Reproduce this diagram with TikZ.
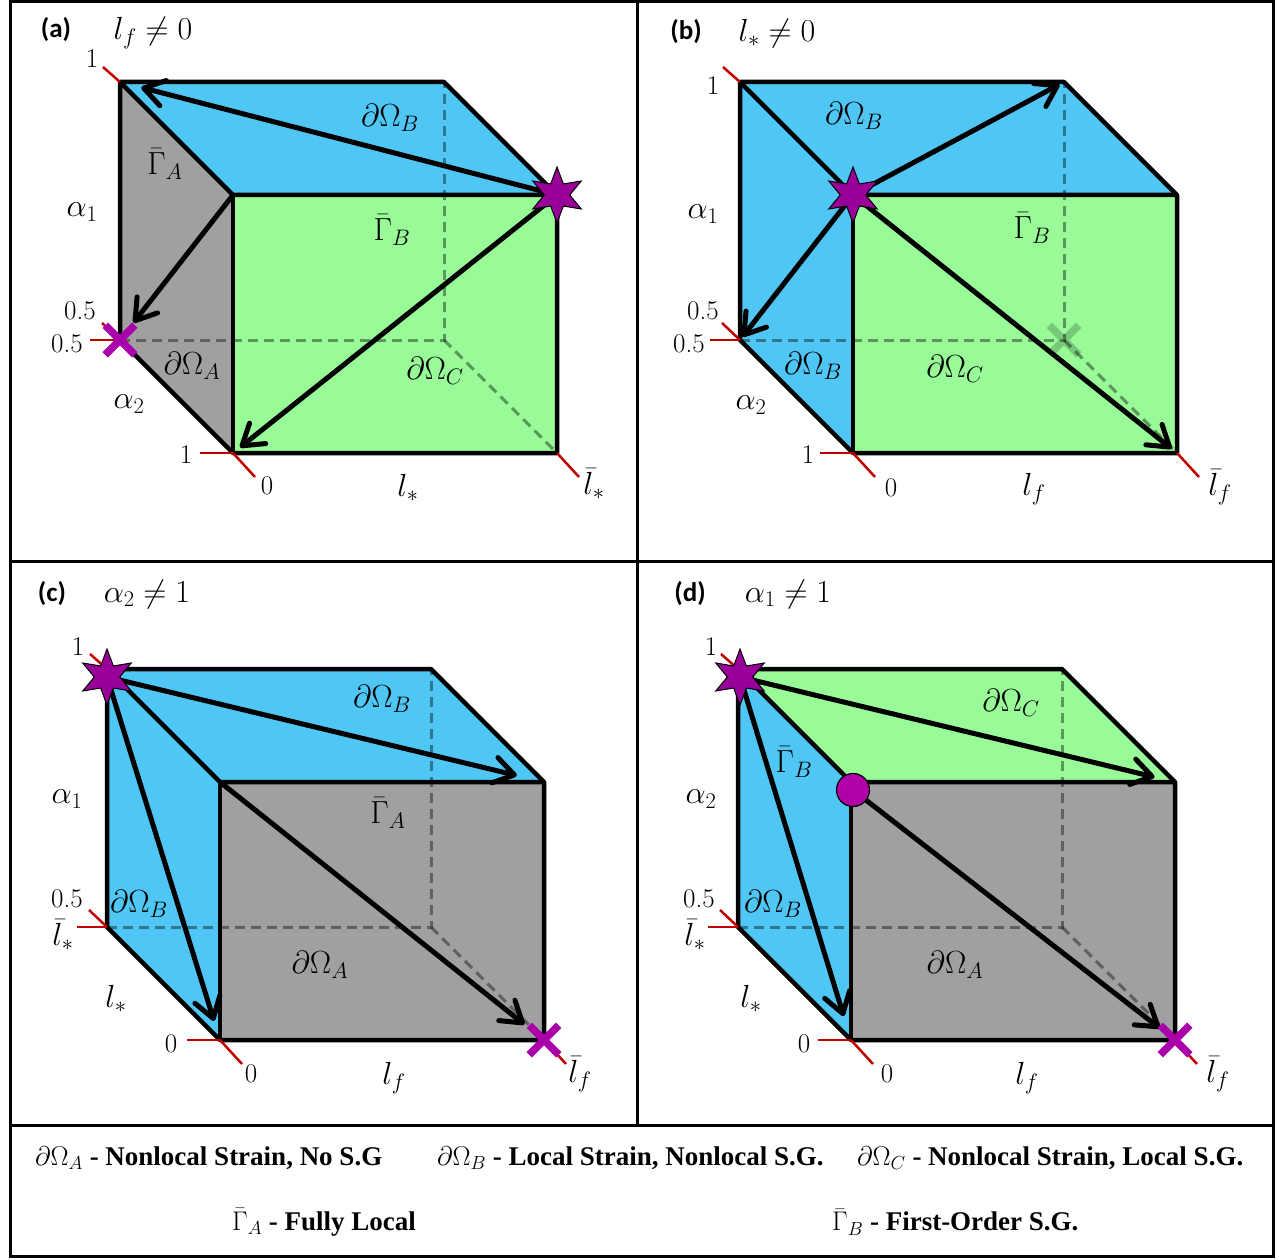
\RequirePackage{fix-cm}
\documentclass[tikz,border=0pt]{standalone}
\usepackage{amsmath,amssymb}
\usepackage{fontspec}
\newfontfamily\panelfont{Carlito}
\newfontfamily\legendfont{Liberation Serif}
\usetikzlibrary{
  arrows.meta,
  shapes.geometric,
  shapes.misc
}

\definecolor{faceblue}{RGB}{79,198,243}
\definecolor{facegreen}{RGB}{152,251,152}
\definecolor{facegray}{RGB}{160,160,160}
\definecolor{starpurple}{RGB}{153,0,153}
\definecolor{crossmag}{RGB}{170,0,170}
\definecolor{dotmag}{RGB}{178,0,168}
\definecolor{tickred}{RGB}{192,0,0}

\begin{document}
\begin{tikzpicture}[x=1pt,y=-1pt,
  edge/.style={line width=4.5pt,line join=round},
  hidden/.style={line width=3pt,black,opacity=0.4,dash pattern=on 10pt off 6pt},
  route/.style={line width=5pt,-{Straight Barb[length=20pt,width=26pt,round]}},
  tick/.style={tickred,line width=2.5pt},
  lbl/.style={font=\fontsize{32}{34}\selectfont,inner sep=0pt},
  num/.style={font=\fontsize{27}{29}\selectfont,inner sep=0pt},
  ttl/.style={font=\fontsize{27}{29}\selectfont\panelfont\bfseries,inner sep=0pt},
  leg/.style={font=\fontsize{27}{29}\selectfont\legendfont\bfseries,inner sep=0pt,anchor=west},
  starmark/.style={star,star points=6,star point ratio=2.2,minimum size=56pt,inner sep=0pt,
    fill=starpurple,draw=black,line width=1pt},
  crossmark/.style={cross out,draw=crossmag,line width=7.5pt,minimum size=22pt,inner sep=0pt}
]
\useasboundingbox (0,0) rectangle (1279,1260);

% cube skeletons: corner, top / left / front colours
\foreach \p/\x/\y/\ctop/\cleft/\cfront in {
    a/233/453/faceblue/facegray/facegreen,
    b/853/453/faceblue/faceblue/facegreen,
    c/220/1040/faceblue/faceblue/facegray,
    d/851/1040/facegreen/faceblue/facegray}{
  \coordinate (\p-fbl) at (\x,\y);
  \coordinate (\p-fbr) at (\x+324,\y);
  \coordinate (\p-ftl) at (\x,\y-258);
  \coordinate (\p-ftr) at (\x+324,\y-258);
  \coordinate (\p-bbl) at (\x-113,\y-113);
  \coordinate (\p-bbr) at (\x+211,\y-113);
  \coordinate (\p-btl) at (\x-113,\y-371);
  \coordinate (\p-btr) at (\x+211,\y-371);
  \fill[\ctop] (\p-btl) -- (\p-btr) -- (\p-ftr) -- (\p-ftl) -- cycle;
  \fill[\cleft] (\p-btl) -- (\p-ftl) -- (\p-fbl) -- (\p-bbl) -- cycle;
  \fill[\cfront] (\p-ftl) -- (\p-ftr) -- (\p-fbr) -- (\p-fbl) -- cycle;
  \draw[hidden] (\p-bbl) -- (\p-bbr) -- (\p-btr);
  \draw[hidden] (\p-bbr) -- (\p-fbr);
  \draw[edge] (\p-btl) -- (\p-btr) -- (\p-ftr) -- (\p-fbr) -- (\p-fbl) -- (\p-bbl) -- cycle;
  \draw[edge] (\p-btl) -- (\p-ftl) -- (\p-ftr);
  \draw[edge] (\p-ftl) -- (\p-fbl);
  \draw[tick] (\p-btl) -- ++(-17,-15);
  \draw[tick] (\p-bbl) -- ++(-18,-17);
  \draw[tick] (\p-bbl) -- ++(-30,0);
  \draw[tick] (\p-fbl) -- ++(-33,0);
  \draw[tick] (\p-fbl) -- ++(22,24);
  \draw[tick] (\p-fbr) -- ++(22,24);
}

% (a)
\draw[route, shorten >=22pt] (a-ftr) -- (a-btl);
\draw[route, shorten >=9pt] (a-ftr) -- (a-fbl);
\draw[route, shorten >=22pt] (a-ftl) -- (a-bbl);
\node[crossmark] (a-cross) at (a-bbl) {};
\node[starmark] (a-star) at (a-ftr) {};
\node[ttl] (a-tag) at (56,30) {(a)};
\node[lbl] (a-cond) at (153,33) {$l_f \neq 0$};
\node[num] (a-one) at (92,59) {1};
\node[lbl] (a-top) at (390,118) {$\partial\Omega_B$};
\node[lbl] (a-ga) at (165,164) {$\bar{\Gamma}_A$};
\node[lbl] (a-al1) at (82,212) {$\alpha_1$};
\node[lbl] (a-gb) at (392,230) {$\bar{\Gamma}_B$};
\node[num] (a-half1) at (80,311) {0.5};
\node[num] (a-half2) at (67,344) {0.5};
\node[lbl] (a-oma) at (192,366) {$\partial\Omega_A$};
\node[lbl] (a-omc) at (435,371) {$\partial\Omega_C$};
\node[lbl] (a-al2) at (129,404) {$\alpha_2$};
\node[num] (a-one2) at (186,455) {1};
\node[num] (a-zero) at (267,486) {0};
\node[lbl] (a-ls) at (408,488) {$l_*$};
\node[lbl] (a-lsbar) at (594,484) {$\bar{l}_*$};

% (b)
\draw[route, shorten >=5pt] (b-ftl) -- (b-btr);
\draw[route, shorten >=4pt] (b-ftl) -- (b-bbl);
\draw[route, shorten >=7pt] (b-ftl) -- (b-fbr);
\node[crossmark, draw=black, opacity=0.2] (b-cross) at (b-bbr) {};
\node[starmark] (b-star) at (b-ftl) {};
\node[ttl] (b-tag) at (686,32) {(b)};
\node[lbl] (b-cond) at (777,34) {$l_* \neq 0$};
\node[num] (b-one) at (713,86) {1};
\node[lbl] (b-top) at (854,116) {$\partial\Omega_B$};
\node[lbl] (b-al1) at (703,214) {$\alpha_1$};
\node[lbl] (b-gb) at (1032,228) {$\bar{\Gamma}_B$};
\node[num] (b-half1) at (703,311) {0.5};
\node[num] (b-half2) at (689,344) {0.5};
\node[lbl] (b-omb) at (813,366) {$\partial\Omega_B$};
\node[lbl] (b-omc) at (955,369) {$\partial\Omega_C$};
\node[lbl] (b-al2) at (751,405) {$\alpha_2$};
\node[num] (b-one2) at (808,455) {1};
\node[num] (b-zero) at (891,488) {0};
\node[lbl] (b-lf) at (1034,489) {$l_f$};
\node[lbl] (b-lfbar) at (1220,487) {$\bar{l}_f$};

% (c)
\coordinate (c-src) at (107,677);
\draw[route, shorten >=28pt] (c-src) -- (c-ftr);
\draw[route, shorten >=20pt] (c-src) -- (c-fbl);
\draw[route, shorten >=25pt] (c-ftl) -- (c-fbr);
\node[crossmark] (c-cross) at (c-fbr) {};
\node[starmark] (c-star) at (c-src) {};
\node[ttl] (c-tag) at (52,594) {(c)};
\node[lbl] (c-cond) at (147,594) {$\alpha_2 \neq 1$};
\node[num] (c-one) at (78,647) {1};
\node[lbl] (c-top) at (382,699) {$\partial\Omega_B$};
\node[lbl] (c-al1) at (67,799) {$\alpha_1$};
\node[lbl] (c-ga) at (388,813) {$\bar{\Gamma}_A$};
\node[num] (c-half) at (67,899) {0.5};
\node[lbl] (c-omb) at (139,904) {$\partial\Omega_B$};
\node[lbl] (c-lsbar) at (63,935) {$\bar{l}_*$};
\node[lbl] (c-oma) at (320,965) {$\partial\Omega_A$};
\node[lbl] (c-ls) at (116,999) {$l_*$};
\node[num] (c-zero1) at (171,1044) {0};
\node[num] (c-zero2) at (251,1074) {0};
\node[lbl] (c-lf) at (394,1078) {$l_f$};
\node[lbl] (c-lfbar) at (580,1074) {$\bar{l}_f$};

% (d)
\coordinate (d-src) at (740,677);
\coordinate (d-pt) at (853,790);
\draw[route, shorten >=21pt] (d-src) -- (d-ftr);
\draw[route, shorten >=25pt] (d-src) -- (d-fbl);
\draw[route, shorten >=19pt] (d-pt) -- (d-fbr);
\node[crossmark] (d-cross) at (d-fbr) {};
\node[starmark] (d-star) at (d-src) {};
\node[circle, fill=dotmag, draw=black, line width=1.2pt, minimum size=33pt] (d-dot) at (d-pt) {};
\node[ttl] (d-tag) at (690,594) {(d)};
\node[lbl] (d-cond) at (788,594) {$\alpha_1 \neq 1$};
\node[num] (d-one) at (711,647) {1};
\node[lbl] (d-top) at (1011,703) {$\partial\Omega_C$};
\node[lbl] (d-gb) at (794,762) {$\bar{\Gamma}_B$};
\node[lbl] (d-al2) at (701,799) {$\alpha_2$};
\node[num] (d-half) at (699,899) {0.5};
\node[lbl] (d-omb) at (773,904) {$\partial\Omega_B$};
\node[lbl] (d-lsbar) at (695,935) {$\bar{l}_*$};
\node[lbl] (d-oma) at (955,965) {$\partial\Omega_A$};
\node[lbl] (d-ls) at (751,999) {$l_*$};
\node[num] (d-zero1) at (804,1044) {0};
\node[num] (d-zero2) at (887,1074) {0};
\node[lbl] (d-lf) at (1027,1078) {$l_f$};
\node[lbl] (d-lfbar) at (1218,1074) {$\bar{l}_f$};

% frame and legend
\draw[line width=3pt] (10,2) rectangle (1273,1256);
\draw[line width=3pt] (637,2) -- (637,1125);
\draw[line width=3pt] (10,561) -- (1273,561);
\draw[line width=3pt] (10,1125) -- (1273,1125);
\node[leg] (leg-a) at (35,1158) {$\partial\Omega_A$ - Nonlocal Strain, No S.G};
\node[leg] (leg-b) at (437,1158) {$\partial\Omega_B$ - Local Strain, Nonlocal S.G.};
\node[leg] (leg-c) at (857,1158) {$\partial\Omega_C$ - Nonlocal Strain, Local S.G.};
\node[leg] (leg-ga) at (232,1222) {$\bar{\Gamma}_A$ - Fully Local};
\node[leg] (leg-gb) at (832,1222) {$\bar{\Gamma}_B$ - First-Order S.G.};
\end{tikzpicture}
\end{document}
